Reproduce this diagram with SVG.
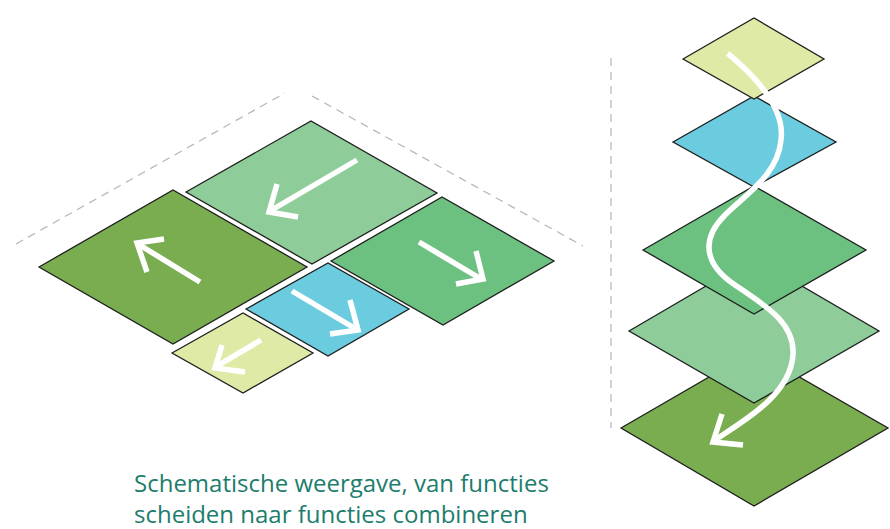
<svg xmlns="http://www.w3.org/2000/svg" width="890" height="529" viewBox="0 0 890 529">
<style>
.tile{stroke:#1e1e1e;stroke-width:1.3;stroke-linejoin:miter}
.dg{fill:#79ad4f}.lg{fill:#8ecd99}.mg{fill:#6cc181}.bl{fill:#6bcce0}.ye{fill:#dfeaa6}
.arr{fill:none;stroke:#ffffff;stroke-width:5.5;stroke-linecap:butt;stroke-linejoin:miter}
.dash{fill:none;stroke:#b5b5b5;stroke-width:1.2;stroke-dasharray:8 6}
.cap{font-family:"Open Sans","Noto Sans",sans-serif;font-size:24px;fill:#1c7d6c}
</style>
<g id="guides">
<line class="dash" x1="16" y1="244" x2="285" y2="93"/>
<line class="dash" x1="312" y1="96" x2="583" y2="246"/>
<line class="dash" x1="611" y1="58" x2="611" y2="428"/>
</g>
<g id="left-dark-green">
<polygon class="tile dg" points="39,267 173,190 307,267 173,344"/>
</g>
<g id="left-light-green">
<polygon class="tile lg" points="186,192 311,121 437,193 312,264"/>
</g>
<g id="left-medium-green">
<polygon class="tile mg" points="331,261 442,197 554,261 443,325"/>
</g>
<g id="left-blue">
<polygon class="tile bl" points="246,309 328,263 409,309 328,356"/>
</g>
<g id="left-yellow">
<polygon class="tile ye" points="172,353 243,313 313,353 243,393"/>
</g>
<g id="right-dark-green">
<polygon class="tile dg" points="621,428 754,351 888,428 754,506"/>
</g>
<g id="right-light-green">
<polygon class="tile lg" points="629,331 754,258 879,331 754,403"/>
</g>
<g id="right-medium-green">
<polygon class="tile mg" points="643,250 754,186 866,250 754,314"/>
</g>
<g id="right-blue">
<polygon class="tile bl" points="673,142 754,96 836,142 754,187"/>
</g>
<g id="right-yellow">
<polygon class="tile ye" points="683,59 754,18 824,59 754,99"/>
</g>
<g id="connectors">
<line class="arr" x1="357" y1="160" x2="270" y2="211"/>
<polyline class="arr" points="277,184 269,212 298,217"/>
<line class="arr" x1="200" y1="282" x2="138" y2="244"/>
<polyline class="arr" points="147,272 137,243 164,239"/>
<line class="arr" x1="419" y1="242" x2="481" y2="279"/>
<polyline class="arr" points="456,284 483,279 476,251"/>
<line class="arr" x1="292" y1="291" x2="356" y2="329"/>
<polyline class="arr" points="330,334 358,330 350,300"/>
<line class="arr" x1="261" y1="340" x2="217" y2="366"/>
<polyline class="arr" points="222,345 215,368 245,372"/>
<path class="arr" d="M727.7,53.3 C760,80 785,110 781,140 C778,175 745,195 725,215 C700,240 705,265 735,285 C770,308 795,325 793,355 C790,395 745,420 715,440"/>
<polyline class="arr" points="722,414 713,442 743,445"/>
</g>
<g id="caption">
<text class="cap" x="134" y="492">Schematische weergave, van functies</text>
<text class="cap" x="134" y="523">scheiden naar functies combineren</text>
</g>
</svg>
